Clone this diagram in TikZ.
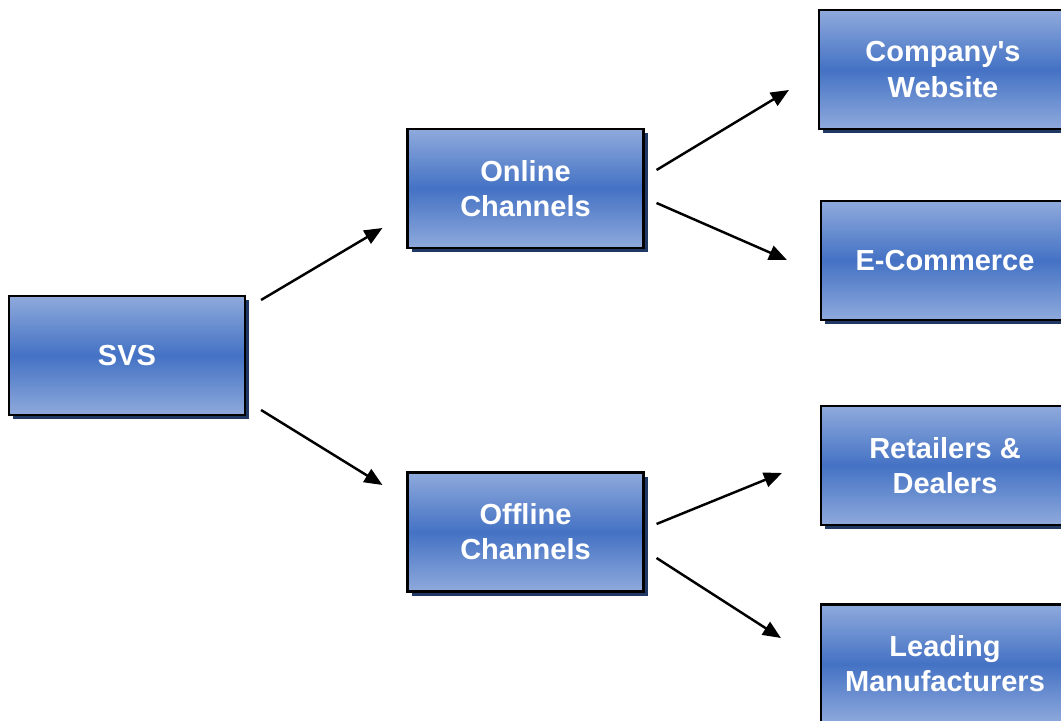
\documentclass[tikz,border=0pt]{standalone}
\usepackage{fontspec}
\setmainfont{Liberation Sans}[Ligatures=TeXOff]
\usepackage{tikz}
\usetikzlibrary{arrows.meta, calc, shadows}
\usepackage{xcolor}
\definecolor{boxlight}{RGB}{143,170,220}
\definecolor{boxmid}{RGB}{68,114,196}
\definecolor{shadownavy}{RGB}{31,56,100}

\tikzset{
  chanbox/.style={draw=black, line width=1.2pt, minimum width=4.72cm, minimum height=2.38cm,
    top color=boxlight, bottom color=boxlight, middle color=boxmid,
    text=white, align=center, font=\fontsize{16.5}{20}\selectfont\bfseries,
    drop shadow={shadow xshift=0.08cm, shadow yshift=-0.08cm, fill=shadownavy, opacity=1}},
  wide/.style={minimum width=4.96cm},
  flow/.style={-{Triangle[length=0.36cm,width=0.3cm]}, line width=1.4pt}
}

\begin{document}
\begin{tikzpicture}
  \clip (0,0) rectangle (21.22,14.4);
  % boxes
  \node[chanbox] (svs) at (2.54,7.29) {SVS};
  \node[chanbox] (online) at (10.51,10.63) {Online\\Channels};
  \node[chanbox] (offline) at (10.51,3.76) {Offline\\Channels};
  \node[chanbox,wide] (website) at (18.86,13.01) {Company's\\Website};
  \node[chanbox,wide] (ecom) at (18.9,9.19) {E-Commerce};
  \node[chanbox,wide] (retail) at (18.9,5.09) {Retailers \&\\Dealers};
  \node[chanbox,wide] (makers) at (18.9,1.12) {Leading\\Manufacturers};
  % arrows
  \draw[flow] ($(svs.east)+(0.3,1.11)$) -- ($(online.west)+(-0.48,-0.79)$);
  \draw[flow] ($(svs.east)+(0.3,-1.09)$) -- ($(offline.west)+(-0.48,0.94)$);
  \draw[flow] ($(online.east)+(0.24,0.37)$) -- ($(website.west)+(-0.58,-0.41)$);
  \draw[flow] ($(online.east)+(0.24,-0.29)$) -- ($(ecom.west)+(-0.66,0.01)$);
  \draw[flow] ($(offline.east)+(0.24,0.16)$) -- ($(retail.west)+(-0.76,-0.15)$);
  \draw[flow] ($(offline.east)+(0.24,-0.52)$) -- ($(makers.west)+(-0.78,0.52)$);
\end{tikzpicture}
\end{document}
